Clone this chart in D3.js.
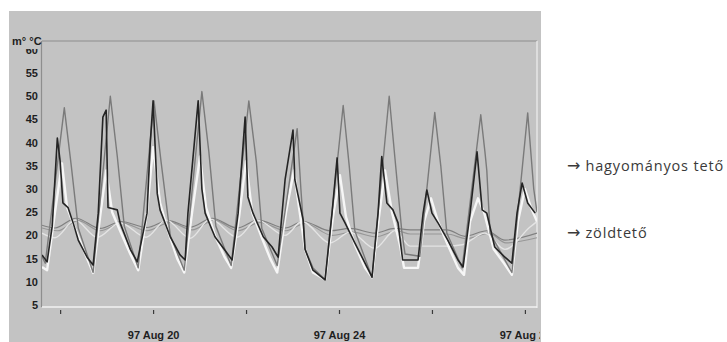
<!DOCTYPE html>
<html>
<head>
<meta charset="utf-8">
<script src="https://cdn.jsdelivr.net/npm/d3@7"></script>
<style>
  html, body { margin: 0; padding: 0; background: #ffffff; }
  svg { display: block; }
</style>
</head>
<body>
<svg id="chart" width="727" height="342"></svg>
<script>
// ---------------- DATA (time = day of August 1997, value = °C) ----------------
const yTickValues = [5, 10, 15, 20, 25, 30, 35, 40, 45, 50, 55, 60];
const xTickDays = [18, 20, 22, 24, 26, 28];
const xLabelDays = [20, 24, 28];
const unitLabel = "m° °C";
const legendLabels = ["hagyományos tető", "zöldtető"];

// conventional roof – surface temperature (medium grey line, highest peaks)
const hagyomanyosFelulet = [
  [17.61,15.5],[17.68,14],[18.09,47.5],[18.24,35],[18.39,21.6],[18.71,12],
  [19.08,50],[19.23,37],[19.38,22],[19.68,13],
  [20.02,49],[20.17,36],[20.37,20],[20.67,12.5],
  [21.05,51],[21.20,38],[21.35,22],[21.68,13.5],
  [22.06,49],[22.22,36],[22.34,21.5],[22.67,13.5],
  [23.10,43],[23.18,30],[23.27,17],[23.44,13],[23.70,10.5],
  [24.09,48],[24.22,35],[24.34,21],[24.71,11],
  [25.08,50],[25.20,37],[25.35,21],[25.42,16],[25.74,15.5],
  [26.06,46.5],[26.19,35],[26.32,20.5],[26.65,13],
  [27.05,46],[27.14,38],[27.18,34],[27.25,20.5],[27.72,12],
  [28.06,46.4],[28.19,30],[28.26,25]
];

// conventional roof – second sensor (black line)
const hagyomanyosBelso = [
  [17.61,15.8],[17.72,14.3],[17.83,22],[17.94,41],[18.00,36],[18.06,27],[18.17,26],[18.28,22.7],[18.39,19],[18.58,15.3],[18.71,13.6],
  [18.82,24.8],[18.92,45.5],[18.99,47],[19.03,26],[19.23,25.5],[19.29,22.7],[19.51,17],[19.66,14.3],
  [19.87,24.8],[19.94,40],[20.00,49],[20.09,29],[20.15,25.5],[20.37,19.7],[20.58,15.8],[20.69,14.7],
  [20.75,24.8],[20.97,49],[21.05,30],[21.12,24.8],[21.33,19.7],[21.59,16.2],[21.70,14.7],
  [21.83,24.8],[21.98,45.5],[22.04,28.3],[22.15,24.8],[22.37,19.7],[22.56,17.5],[22.69,15.3],
  [22.84,32],[23.01,42.7],[23.05,32],[23.23,23.3],[23.27,17],[23.44,12.5],[23.70,10.4],
  [23.85,24.8],[23.96,36.7],[24.02,24.8],[24.13,22.7],[24.34,18.4],[24.60,13.2],[24.71,11],
  [24.84,24.8],[24.92,37],[25.03,27],[25.16,25.5],[25.27,22.7],[25.37,14.7],[25.70,14.7],
  [25.81,24.8],[25.89,29.8],[26.00,24.8],[26.13,22.7],[26.34,19],[26.56,14.7],[26.67,13.2],
  [26.82,24.8],[26.97,38],[27.08,25.5],[27.18,24.8],[27.35,17.5],[27.57,15.3],[27.72,14],
  [27.83,24.8],[27.94,31.3],[28.06,27],[28.22,24.8]
];

// conventional roof – third sensor (white line)
const hagyomanyosLevego = [
  [17.61,13.2],[17.72,12.5],[17.89,25],[18.04,35.5],[18.15,26],[18.32,21.5],[18.54,16],[18.71,11.9],
  [18.86,24],[18.99,34],[19.12,25],[19.29,21],[19.51,16],[19.68,12.5],
  [19.87,25],[20.00,39],[20.15,27],[20.32,21],[20.52,15],[20.67,12],
  [20.84,25],[21.01,37],[21.14,26],[21.33,20],[21.53,15.5],[21.68,13],
  [21.85,24],[22.00,36],[22.13,25],[22.34,19.5],[22.52,15],[22.67,12],
  [22.86,25],[23.03,34],[23.14,26],[23.27,17],[23.44,12],[23.70,10.5],
  [23.87,24],[24.02,33],[24.15,24],[24.34,18],[24.56,13],[24.71,11],
  [24.86,24],[24.99,34],[25.14,25],[25.31,18],[25.40,13],[25.70,13],
  [25.83,23],[25.98,28],[26.13,23],[26.34,18],[26.56,13],[26.69,11.5],
  [26.82,23],[26.99,28],[27.12,25],[27.33,17],[27.55,14],[27.72,11.5],
  [27.85,23],[28.00,30],[28.13,26],[28.26,23]
];

// green roof – three sensors (flat lines around 20 °C)
const zoldteto1 = [
  [17.61,22.2],[17.89,21.6],[18.34,23.7],[18.86,21.5],[19.31,23],[19.87,21.7],[20.32,23.2],
  [20.80,21.8],[21.27,23.7],[21.81,21.6],[22.26,23.3],[22.84,21.6],[23.23,23],[23.81,21],
  [24.24,21.5],[24.77,20.5],[25.20,21.5],[25.53,21.2],[26.32,21.2],[26.71,19.8],[27.18,21],
  [27.57,19],[28.26,20.5]
];
const zoldteto2 = [
  [17.61,21.6],[17.94,21],[18.39,23.2],[18.86,21],[19.33,22.7],[19.87,21],[20.37,22.8],
  [20.84,21.2],[21.31,23.3],[21.83,21],[22.30,22.8],[22.86,21],[23.27,22.6],[23.85,20],
  [24.28,20.7],[24.80,19.7],[25.25,21],[25.53,20.3],[26.32,20.3],[26.75,19.3],[27.23,20.5],
  [27.59,18.4],[28.26,19.5]
];
const zoldteto3 = [
  [17.61,20.5],[17.89,19.5],[18.32,23.3],[18.80,19.6],[19.29,22.7],[19.85,19.6],[20.28,23.3],
  [20.80,19.4],[21.23,23.5],[21.81,19.6],[22.24,23.3],[22.84,20],[23.20,23],[23.81,18.4],
  [24.24,20.7],[24.77,17.2],[25.20,21],[25.53,17.7],[26.32,17.7],[26.65,18],[27.14,20.5],
  [27.57,17],[28.11,21.8],[28.26,23]
];

// ---------------- DRAWING ----------------
const svg = d3.select("#chart");
const W = 727, H = 342;
const plot = { left: 42, right: 537, top: 41, bottom: 307 };

const x = d3.scaleLinear().domain([17.61, 28.26]).range([plot.left, plot.right]);
const y = d3.scaleLinear().domain([4.57, 61.9]).range([plot.bottom, plot.top]);

const defs = svg.append("defs");
defs.append("clipPath").attr("id", "plotClip").append("rect")
  .attr("x", plot.left).attr("y", plot.top)
  .attr("width", plot.right - plot.left).attr("height", plot.bottom - plot.top);
defs.append("clipPath").attr("id", "panelClip").append("rect")
  .attr("x", 9).attr("y", 11).attr("width", 531).attr("height", H - 11);
defs.append("clipPath").attr("id", "yLabClip").append("rect")
  .attr("x", 0).attr("y", 49).attr("width", 42).attr("height", H);

// grey scanned panel
svg.append("rect").attr("x", 9).attr("y", 11).attr("width", 532).attr("height", H - 11)
  .attr("fill", "#c3c3c3");

// frame
svg.append("line").attr("x1", plot.left).attr("x2", plot.right).attr("y1", plot.top).attr("y2", plot.top)
  .attr("stroke", "#8e8e8e").attr("stroke-width", 1.2);
svg.append("line").attr("x1", plot.left - 0.5).attr("x2", plot.left - 0.5).attr("y1", plot.top).attr("y2", plot.bottom)
  .attr("stroke", "#8e8e8e").attr("stroke-width", 1.2);
svg.append("line").attr("x1", plot.right).attr("x2", plot.right).attr("y1", plot.top).attr("y2", plot.bottom + 1)
  .attr("stroke", "#eeeeee").attr("stroke-width", 1.2);
svg.append("line").attr("x1", plot.left).attr("x2", plot.right).attr("y1", plot.bottom).attr("y2", plot.bottom)
  .attr("stroke", "#f2f2f2").attr("stroke-width", 1.4);

// lines
const gLines = svg.append("g").attr("clip-path", "url(#plotClip)");
const lineStraight = d3.line().x(d => x(d[0])).y(d => y(d[1]));
const lineSmooth = d3.line().x(d => x(d[0])).y(d => y(d[1])).curve(d3.curveMonotoneX);

const series = [
  { data: zoldteto2, color: "#979797", w: 1.2, gen: lineSmooth },
  { data: zoldteto1, color: "#808080", w: 1.2, gen: lineSmooth },
  { data: zoldteto3, color: "#e4e4e4", w: 1.4, gen: lineSmooth },
  { data: hagyomanyosLevego, color: "#f6f6f6", w: 2.4, gen: lineStraight },
  { data: hagyomanyosFelulet, color: "#7a7a7a", w: 1.4, gen: lineStraight },
  { data: hagyomanyosBelso, color: "#242424", w: 1.6, gen: lineStraight }
];
series.forEach(s => {
  gLines.append("path").datum(s.data)
    .attr("d", s.gen)
    .attr("fill", "none")
    .attr("stroke", s.color)
    .attr("stroke-width", s.w)
    .attr("stroke-linejoin", "round");
});

// y axis labels (outer group carries the clip in absolute coordinates)
const yAxis = d3.axisLeft(y).tickValues(yTickValues).tickSize(0).tickPadding(4);
const gyWrap = svg.append("g").attr("clip-path", "url(#yLabClip)");
const gy = gyWrap.append("g").attr("transform", `translate(${plot.left},0)`).call(yAxis);
gy.select(".domain").remove();
gy.selectAll("text")
  .attr("font-family", "'Liberation Sans', Arial, sans-serif")
  .attr("font-weight", "bold").attr("font-size", 11).attr("fill", "#1e1e1e");

// unit label
svg.append("text").attr("x", 12).attr("y", 44.5).text(unitLabel)
  .attr("font-family", "'Liberation Sans', Arial, sans-serif")
  .attr("font-weight", "bold").attr("font-size", 11).attr("fill", "#1e1e1e");

// x axis
const xAxis = d3.axisBottom(x).tickValues(xTickDays).tickSize(4).tickPadding(17)
  .tickFormat(d => xLabelDays.includes(d) ? "97 Aug " + d : "");
const gxWrap = svg.append("g").attr("clip-path", "url(#panelClip)");
const gx = gxWrap.append("g").attr("transform", `translate(0,${plot.bottom + 3})`).call(xAxis);
gx.select(".domain").remove();
gx.selectAll(".tick line").attr("stroke", "#3a3a3a").attr("stroke-width", 1.2);
gx.selectAll("text")
  .attr("font-family", "'Liberation Sans', Arial, sans-serif")
  .attr("font-weight", "bold").attr("font-size", 11).attr("fill", "#1e1e1e");

// legend (outside the grey panel)
const legendY = [171, 238];
legendLabels.forEach((t, i) => {
  const txt = svg.append("text").attr("x", 567).attr("y", legendY[i])
    .attr("font-family", "'Open Sans', 'Noto Sans', sans-serif")
    .attr("font-size", 14.5).attr("fill", "#3a3a3a");
  txt.append("tspan").attr("font-family", "'DejaVu Sans', sans-serif").attr("font-size", 16).text("→");
  txt.append("tspan").attr("dx", 5).attr("letter-spacing", 0.85).text(t);
});
</script>
</body>
</html>
